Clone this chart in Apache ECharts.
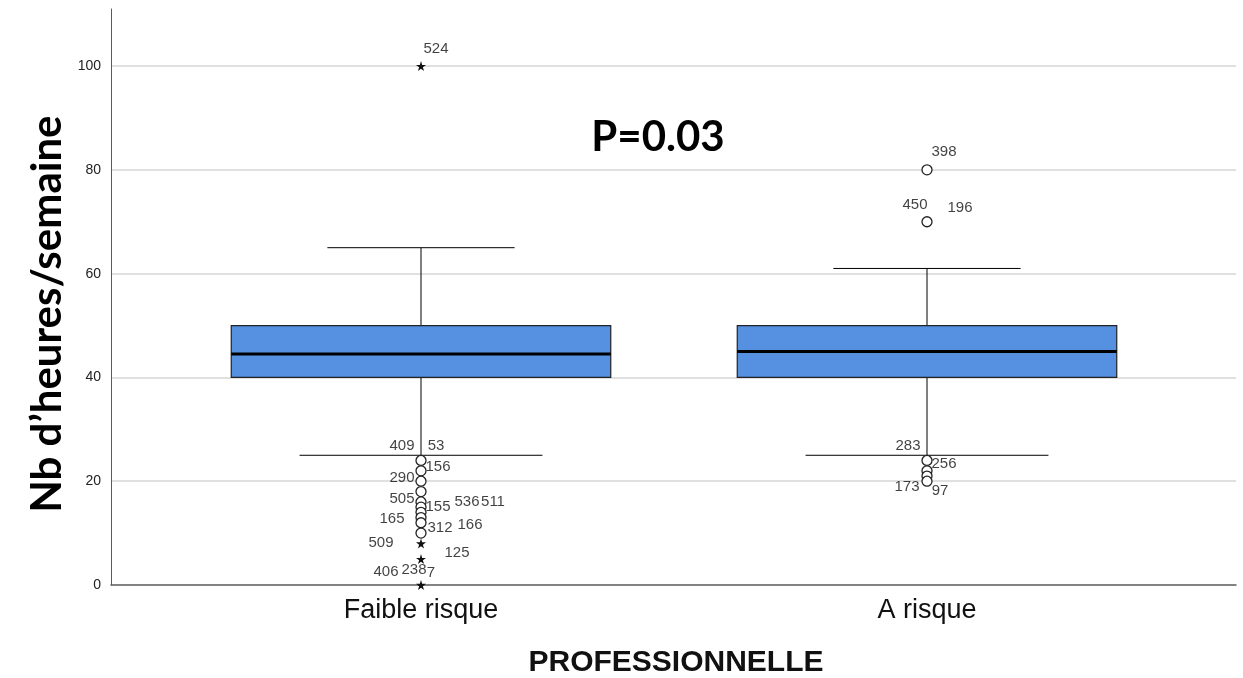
<!DOCTYPE html>
<html>
<head>
<meta charset="utf-8">
<script src="https://cdn.jsdelivr.net/npm/echarts@6/dist/echarts.min.js"></script>
<style>
  html, body { margin: 0; padding: 0; background: #fff; }
  #chart { width: 1243px; height: 678px; }
</style>
</head>
<body>
<div id="chart"></div>
<script>
// ---------- data ----------
const categories = ['Faible risque', 'A risque'];
const whiskerLow = [25, 25];
const q1 = [40, 40];
const median = [44.5, 45];
const q3 = [50, 50];
const whiskerHigh = [65, 61];

// outliers: 'mild' = circle, 'extreme' = star
const outlierCat = ['Faible risque','Faible risque','Faible risque','Faible risque','Faible risque','Faible risque',
  'Faible risque','Faible risque','Faible risque','Faible risque','Faible risque','Faible risque','Faible risque','Faible risque',
  'A risque','A risque','A risque','A risque','A risque','A risque'];
const outlierValue = [100, 24, 22, 20, 18, 16, 15, 14, 13, 12, 10, 8, 5, 0,
  80, 70, 24, 22, 21, 20];
const outlierKind = ['extreme','mild','mild','mild','mild','mild','mild','mild','mild','mild','mild','extreme','extreme','extreme',
  'mild','mild','mild','mild','mild','mild'];

// case-number labels, attached to outlier values
const labelText = ['524','409','53','156','290','505','155','536','511','165','312','166','509','125','406','238','7',
  '398','450','196','283','256','173','97'];
const labelCat = ['Faible risque','Faible risque','Faible risque','Faible risque','Faible risque','Faible risque','Faible risque',
  'Faible risque','Faible risque','Faible risque','Faible risque','Faible risque','Faible risque','Faible risque','Faible risque',
  'Faible risque','Faible risque',
  'A risque','A risque','A risque','A risque','A risque','A risque','A risque'];
const labelValue = [100, 24, 24, 22, 20, 16, 15, 15, 15, 13, 12, 12, 8, 5, 0, 0, 0,
  80, 70, 70, 24, 24, 20, 20];

const yTicks = [0, 20, 40, 60, 80, 100];
const pText = 'P=0.03';
const yTitle = 'Nb d\u2019heures/semaine';
const xTitle = 'PROFESSIONNELLE';

// ---------- layout (pixel offsets of the labels from their point) ----------
const labelOffsets = [[15,-17],[-19,-15],[15,-15],[17,-4],[-19,-3],[-19,-3],[17,0],[46,-5],[72,-5],[-29,1],[19,5],[49,2],
  [-40,-1],[36,-6],[-35,-13],[-7,-15],[10,-12],
  [17,-18],[-12,-17],[33,-14],[-19,-15],[17,3],[-20,6],[13,10]];

const STAR = 'path://M50,0 L61,35 L98,35 L68,57 L79,91 L50,70 L21,91 L32,57 L2,35 L39,35 Z';
const Y_MAX = 111;

const boxData = categories.map((c, i) => [i, whiskerLow[i], q1[i], median[i], q3[i], whiskerHigh[i]]);

function renderBox(params, api) {
  const x = api.value(0);
  const band = api.size([1, 0])[0];
  const pLow = api.coord([x, api.value(1)]);
  const pQ1 = api.coord([x, api.value(2)]);
  const pMed = api.coord([x, api.value(3)]);
  const pQ3 = api.coord([x, api.value(4)]);
  const pHigh = api.coord([x, api.value(5)]);
  const cx = pMed[0];
  const hb = band * 0.375;
  const hLowCap = band * 0.24;
  const hHighCap = band * 0.185;
  const line = (x1, y1, x2, y2, w) => ({
    type: 'line', shape: { x1, y1, x2, y2 },
    style: { stroke: '#000', lineWidth: w }
  });
  return {
    type: 'group',
    children: [
      line(cx, pQ3[1], cx, pHigh[1], 1),
      line(cx, pQ1[1], cx, pLow[1], 1),
      line(cx - hHighCap, pHigh[1], cx + hHighCap, pHigh[1], 1),
      line(cx - hLowCap, pLow[1], cx + hLowCap, pLow[1], 1),
      {
        type: 'rect',
        shape: { x: cx - hb, y: pQ3[1], width: hb * 2, height: pQ1[1] - pQ3[1] },
        style: { fill: '#5591e0', stroke: '#222', lineWidth: 1.2 }
      },
      line(cx - hb, pMed[1], cx + hb, pMed[1], 3)
    ]
  };
}

const mildData = [], extremeData = [];
outlierValue.forEach((v, i) => {
  (outlierKind[i] === 'mild' ? mildData : extremeData).push([outlierCat[i], v]);
});

const labelData = labelText.map((t, i) => ({
  value: [labelCat[i], labelValue[i]],
  label: { offset: labelOffsets[i] }
}));

const chart = echarts.init(document.getElementById('chart'), null, { renderer: 'canvas' });
chart.setOption({
  animation: false,
  backgroundColor: '#fff',
  grid: [
    { left: 111, right: 7, top: 9, bottom: 93 },
    { left: 168, right: 63, top: 9, bottom: 93 }
  ],
  xAxis: [
    {
      gridIndex: 0, type: 'value', min: 0, max: 1,
      axisLine: { show: true, lineStyle: { color: '#5a5a5a', width: 1.5 } },
      axisTick: { show: false }, axisLabel: { show: false }, splitLine: { show: false }
    },
    {
      gridIndex: 1, type: 'category', data: categories,
      axisLine: { show: false }, axisTick: { show: false },
      axisLabel: { color: '#111', fontSize: 27, fontFamily: 'Liberation Sans', margin: 12 },
      splitLine: { show: false }
    }
  ],
  yAxis: [
    {
      gridIndex: 0, type: 'value', min: 0, max: Y_MAX, interval: 20,
      axisLine: { show: true, lineStyle: { color: '#5a5a5a', width: 1 } },
      axisTick: { show: false },
      axisLabel: {
        color: '#222', fontSize: 14, fontFamily: 'Liberation Sans', margin: 10,
        showMaxLabel: false,
        formatter: v => (yTicks.indexOf(v) >= 0 ? String(v) : '')
      },
      splitLine: { show: true, showMinLine: false, showMaxLine: false,
        lineStyle: { color: '#d6d6d6', width: 1.5 } }
    },
    {
      gridIndex: 1, type: 'value', min: 0, max: Y_MAX, show: false,
      splitLine: { show: false }
    }
  ],
  series: [
    {
      type: 'custom', xAxisIndex: 1, yAxisIndex: 1,
      renderItem: renderBox,
      encode: { x: 0, y: [1, 2, 3, 4, 5] },
      data: boxData, z: 2
    },
    {
      type: 'scatter', xAxisIndex: 1, yAxisIndex: 1,
      symbol: 'circle', symbolSize: 10,
      itemStyle: { color: '#fff', borderColor: '#222', borderWidth: 1.3, opacity: 1 },
      data: mildData, z: 4
    },
    {
      type: 'scatter', xAxisIndex: 1, yAxisIndex: 1,
      symbol: STAR, symbolSize: 10,
      itemStyle: { color: '#111', opacity: 1 },
      data: extremeData, z: 4
    },
    {
      type: 'scatter', xAxisIndex: 1, yAxisIndex: 1,
      symbolSize: 0, silent: true,
      label: {
        show: true, position: 'inside',
        color: '#111', fontSize: 15, fontFamily: 'Liberation Sans',
        formatter: p => labelText[p.dataIndex]
      },
      data: labelData, z: 5
    }
  ],
  graphic: [
    {
      type: 'text', x: 47, y: 314, rotation: Math.PI / 2,
      style: { text: yTitle, font: 'bold 42px Lato', fill: '#000', align: 'center', verticalAlign: 'middle' }
    },
    {
      type: 'text', x: 658, y: 137,
      style: { text: pText, font: 'bold 42px Lato', fill: '#000', align: 'center', verticalAlign: 'middle' }
    },
    {
      type: 'text', x: 676, y: 663,
      style: { text: xTitle, font: 'bold 30px "Liberation Sans"', fill: '#111', align: 'center', verticalAlign: 'middle' }
    }
  ]
});
</script>
</body>
</html>
